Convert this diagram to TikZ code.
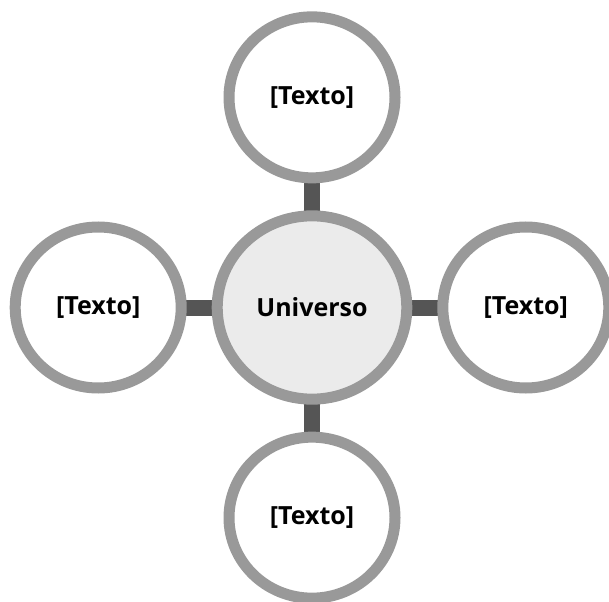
\documentclass[tikz,border=0pt]{standalone}
\usepackage{fontspec}
\setmainfont{Open Sans}
\usetikzlibrary{positioning, shapes.geometric, backgrounds}
\definecolor{ringgray}{RGB}{153,153,153}
\definecolor{hubfill}{RGB}{235,235,235}
\definecolor{linkgray}{RGB}{85,85,85}
\begin{document}
\begin{tikzpicture}[x=1pt, y=1pt,
			hub/.style = {
				ellipse, draw=ringgray, line width=11pt, fill=hubfill,
				minimum width=189.6pt, minimum height=183.3pt,
				inner sep=0pt, outer sep=0pt, font=\bfseries\fontsize{25}{29}\selectfont
			},
			leaf/.style = {
				ellipse, draw=ringgray, line width=11pt, fill=white,
				minimum width=166pt, minimum height=161pt,
				inner sep=0pt, outer sep=0pt, font=\bfseries\fontsize{25}{29}\selectfont
			},
			link/.style = {
				draw=linkgray, line width=16pt
			}]
			\useasboundingbox (0,0) rectangle (609,-601);
			\node (u) [hub] at (312,-307.5) {Universo};
			\node (t1) [leaf, above = 38pt of u] {[Texto]};
			\node (t2) [leaf, left = 36pt of u] {[Texto]};
			\node (t3) [leaf, right = 36pt of u] {[Texto]};
			\node (t4) [leaf, below = 38pt of u] {[Texto]};
			\begin{scope}[on background layer]
			\path [link]
			(u) -- (t1)
			(u) -- (t2)
			(u) -- (t3)
			(u) -- (t4);
			\end{scope}
		\end{tikzpicture}
\end{document}
